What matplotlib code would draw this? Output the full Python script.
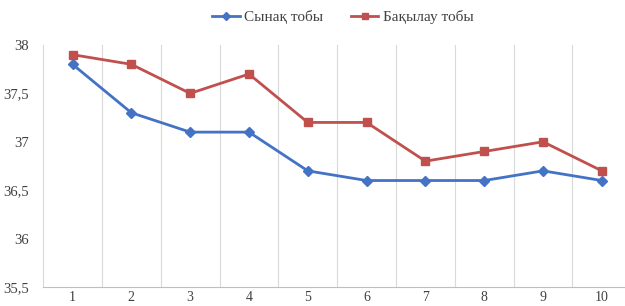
import matplotlib.pyplot as plt
from matplotlib.ticker import FuncFormatter
import numpy as np

plt.rcParams['font.family'] = ['Liberation Serif', 'DejaVu Serif']

days = [1, 2, 3, 4, 5, 6, 7, 8, 9, 10]
test_group = [37.8, 37.3, 37.1, 37.1, 36.7, 36.6, 36.6, 36.6, 36.7, 36.6]
control_group = [37.9, 37.8, 37.5, 37.7, 37.2, 37.2, 36.8, 36.9, 37.0, 36.7]
labels = ["Сынақ тобы", "Бақылау тобы"]

fig = plt.figure(figsize=(6.25, 3.06), dpi=100)
ax = fig.add_axes([0.069, 0.062, 0.941, 0.791])

ax.plot(days, test_group, color="#4472C4", lw=2, marker="D", ms=5, label=labels[0])
ax.plot(days, control_group, color="#C0504D", lw=2, marker="s", ms=6, label=labels[1])

ax.set_xlim(0.5, 10.5)
ax.set_ylim(35.5, 38)
ax.set_xticks(days)
ax.set_yticks(np.arange(35.5, 38.01, 0.5))
ax.yaxis.set_major_formatter(FuncFormatter(lambda v, p: f"{v:g}".replace(".", ",")))

# vertical grid at category boundaries
for b in np.arange(1.5, 10.5, 1):
    ax.axvline(b, color="#d9d9d9", lw=0.8, zorder=0)

for s in ["top", "right"]:
    ax.spines[s].set_visible(False)
ax.spines["left"].set_color("#d9d9d9")
ax.spines["bottom"].set_color("#bfbfbf")
ax.tick_params(length=0, labelsize=10.5, colors="#404040")
ax.tick_params(axis="x", pad=2.5, labelsize=10)
ax.tick_params(axis="y", pad=10)

ax.legend(loc="center", bbox_to_anchor=(343 / 625, 1 - 17 / 306), bbox_transform=fig.transFigure,
          ncol=2, frameon=False, fontsize=11, handlelength=1.8, columnspacing=1.8,
          handletextpad=0.3, markerscale=0.8, labelcolor="#404040")

fig.savefig("out.png", dpi=100)
